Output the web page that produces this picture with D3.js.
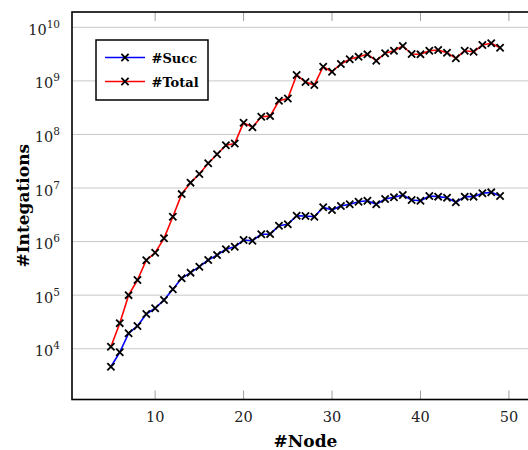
<!DOCTYPE html>
<html>
<head>
<meta charset="utf-8">
<script src="https://cdn.jsdelivr.net/npm/d3@7"></script>
<style>
  html, body { margin: 0; padding: 0; background: #fff; }
  svg { display: block; }
  .serif { font-family: "DejaVu Serif"; }
</style>
</head>
<body>
<svg id="chart" width="528" height="450"></svg>
<script>
const nodes = [5,6,7,8,9,10,11,12,13,14,15,16,17,18,19,20,21,22,23,24,25,26,27,28,29,30,31,32,33,34,35,36,37,38,39,40,41,42,43,44,45,46,47,48,49];
const succ = [4.6e3, 8.6e3, 1.94e4, 2.66e4, 4.45e4, 5.7e4, 8.1e4, 1.29e5, 2.06e5, 2.63e5, 3.4e5, 4.53e5, 5.6e5, 7.2e5, 8.0e5, 1.07e6, 1.04e6, 1.37e6, 1.38e6, 1.98e6, 2.1e6, 3.04e6, 3.0e6, 2.91e6, 4.37e6, 3.88e6, 4.61e6, 4.96e6, 5.55e6, 5.8e6, 4.96e6, 6.24e6, 6.7e6, 7.4e6, 5.97e6, 5.8e6, 7.1e6, 6.9e6, 6.6e6, 5.4e6, 6.9e6, 6.9e6, 7.97e6, 8.3e6, 7.1e6];
const total = [1.09e4, 3.0e4, 1.0e5, 1.92e5, 4.5e5, 6.2e5, 1.15e6, 2.9e6, 7.7e6, 1.26e7, 1.83e7, 2.9e7, 4.26e7, 6.3e7, 6.8e7, 1.66e8, 1.36e8, 2.14e8, 2.2e8, 4.26e8, 4.7e8, 1.29e9, 9.5e8, 8.4e8, 1.84e9, 1.48e9, 2.07e9, 2.53e9, 2.83e9, 3.13e9, 2.38e9, 3.27e9, 3.66e9, 4.48e9, 3.18e9, 3.13e9, 3.66e9, 3.77e9, 3.36e9, 2.64e9, 3.66e9, 3.5e9, 4.67e9, 5.03e9, 4.16e9];
const seriesNames = ["#Succ", "#Total"];
const seriesColors = ["#0000ff", "#ff0000"];
const xTicks = [10, 20, 30, 40, 50];
const yTickExponents = [4, 5, 6, 7, 8, 9, 10];
const xLabel = "#Node";
const yLabel = "#Integations";

const svg = d3.select("#chart");
const L = 72, R = 539, T = 12, B = 399.5;
const x = d3.scaleLinear().domain([0.6, 53.4]).range([L, R]);
const y = d3.scaleLog().domain([Math.pow(10, 3.052), Math.pow(10, 10.286)]).range([B, T]);

// grid lines
svg.append("g").selectAll("line").data(yTickExponents).join("line")
  .attr("x1", L).attr("x2", R)
  .attr("y1", d => y(Math.pow(10, d))).attr("y2", d => y(Math.pow(10, d)))
  .attr("stroke", "#c8c8c8").attr("stroke-width", 1);

// x ticks (bottom & top, inward)
const xt = svg.append("g");
xt.selectAll("line.b").data(xTicks).join("line").attr("class", "b")
  .attr("x1", d => x(d)).attr("x2", d => x(d)).attr("y1", B).attr("y2", B - 9)
  .attr("stroke", "#a0a0a0").attr("stroke-width", 1);
xt.selectAll("line.t").data(xTicks).join("line").attr("class", "t")
  .attr("x1", d => x(d)).attr("x2", d => x(d)).attr("y1", T).attr("y2", T + 9)
  .attr("stroke", "#a0a0a0").attr("stroke-width", 1);
xt.selectAll("text").data(xTicks).join("text")
  .attr("class", "serif")
  .attr("x", d => x(d)).attr("y", 421.5)
  .attr("text-anchor", "middle")
  .attr("font-size", 14.5).attr("fill", "#222")
  .text(d => d);

// y tick labels 10^n
const yl = svg.append("g").selectAll("text").data(yTickExponents).join("text")
  .attr("class", "serif")
  .attr("x", 60).attr("y", d => y(Math.pow(10, d)) + 7.5)
  .attr("text-anchor", "end")
  .attr("font-size", 14.5).attr("fill", "#222");
yl.append("tspan").text("10");
yl.append("tspan").attr("dy", -7).attr("font-size", 10.5).text(d => d);

// lines
const line = d3.line().x((d, i) => x(nodes[i])).y(d => y(d));
const data = [succ, total];
data.forEach((s, k) => {
  svg.append("path").datum(s).attr("d", line)
    .attr("fill", "none").attr("stroke", seriesColors[k]).attr("stroke-width", 1.6)
    .attr("stroke-linejoin", "round");
});
// markers
const ms = 3.6;
function cross(g, cx, cy) {
  g.append("path")
    .attr("d", `M${cx - ms},${cy - ms}L${cx + ms},${cy + ms}M${cx - ms},${cy + ms}L${cx + ms},${cy - ms}`)
    .attr("stroke", "#000").attr("stroke-width", 1.8).attr("fill", "none");
}
data.forEach(s => {
  const g = svg.append("g");
  s.forEach((v, i) => cross(g, x(nodes[i]), y(v)));
});

// frame
svg.append("rect").attr("x", L).attr("y", T).attr("width", R - L).attr("height", B - T)
  .attr("fill", "none").attr("stroke", "#000").attr("stroke-width", 1.6);

// legend
const lg = svg.append("g");
lg.append("rect").attr("x", 96).attr("y", 40).attr("width", 112).attr("height", 60)
  .attr("fill", "#fff").attr("stroke", "#000").attr("stroke-width", 1.5);
seriesNames.forEach((name, k) => {
  const ly = 57.5 + k * 24;
  lg.append("line").attr("x1", 105).attr("x2", 145).attr("y1", ly).attr("y2", ly)
    .attr("stroke", seriesColors[k]).attr("stroke-width", 1.6);
  cross(lg, 125, ly);
  lg.append("text").attr("class", "serif").attr("x", 151.5).attr("y", ly + 5)
    .attr("font-weight", "bold").attr("font-size", 13)
    .attr("fill", "#000").text(name);
});

// axis titles
svg.append("text").attr("class", "serif").attr("x", (L + R) / 2).attr("y", 447)
  .attr("text-anchor", "middle").attr("font-weight", "bold")
  .attr("font-size", 17).attr("fill", "#000").text(xLabel);
svg.append("text").attr("class", "serif").attr("transform", `translate(28.5,${(T + B) / 2}) rotate(-90)`)
  .attr("text-anchor", "middle").attr("font-weight", "bold")
  .attr("font-size", 17).attr("fill", "#000").text(yLabel);
</script>
</body>
</html>
